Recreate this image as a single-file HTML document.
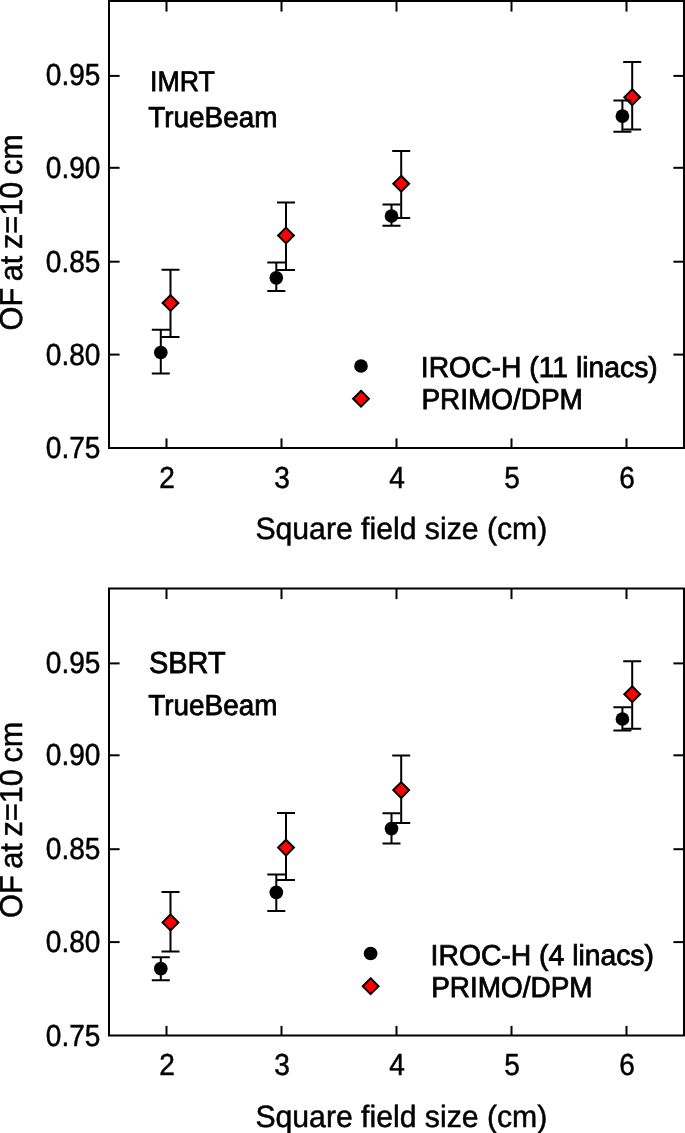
<!DOCTYPE html>
<html><head><meta charset="utf-8"><title>Output factors</title>
<style>html,body{margin:0;padding:0;background:#fff}svg{display:block;will-change:transform}text{fill:#000;text-rendering:geometricPrecision}</style></head>
<body>
<svg width="685" height="1133" viewBox="0 0 685 1133">
<rect width="685" height="1133" fill="#fff"/>
<g transform="translate(0,0)">
<rect x="109" y="1" width="575" height="447" fill="none" stroke="#000" stroke-width="2"/>
<line x1="166.5" y1="1" x2="166.5" y2="11.6" stroke="#000" stroke-width="2"/>
<line x1="166.5" y1="448" x2="166.5" y2="438.4" stroke="#000" stroke-width="2"/>
<line x1="281.5" y1="1" x2="281.5" y2="11.6" stroke="#000" stroke-width="2"/>
<line x1="281.5" y1="448" x2="281.5" y2="438.4" stroke="#000" stroke-width="2"/>
<line x1="396.5" y1="1" x2="396.5" y2="11.6" stroke="#000" stroke-width="2"/>
<line x1="396.5" y1="448" x2="396.5" y2="438.4" stroke="#000" stroke-width="2"/>
<line x1="511.5" y1="1" x2="511.5" y2="11.6" stroke="#000" stroke-width="2"/>
<line x1="511.5" y1="448" x2="511.5" y2="438.4" stroke="#000" stroke-width="2"/>
<line x1="626.5" y1="1" x2="626.5" y2="11.6" stroke="#000" stroke-width="2"/>
<line x1="626.5" y1="448" x2="626.5" y2="438.4" stroke="#000" stroke-width="2"/>
<line x1="109" y1="75.9" x2="119.6" y2="75.9" stroke="#000" stroke-width="2"/>
<line x1="684" y1="75.9" x2="673.4" y2="75.9" stroke="#000" stroke-width="2"/>
<line x1="109" y1="167.8" x2="119.6" y2="167.8" stroke="#000" stroke-width="2"/>
<line x1="684" y1="167.8" x2="673.4" y2="167.8" stroke="#000" stroke-width="2"/>
<line x1="109" y1="261.7" x2="119.6" y2="261.7" stroke="#000" stroke-width="2"/>
<line x1="684" y1="261.7" x2="673.4" y2="261.7" stroke="#000" stroke-width="2"/>
<line x1="109" y1="354.6" x2="119.6" y2="354.6" stroke="#000" stroke-width="2"/>
<line x1="684" y1="354.6" x2="673.4" y2="354.6" stroke="#000" stroke-width="2"/>
<text transform="translate(100.4,85.2) scale(0.92,1)" font-family="Liberation Sans, sans-serif" font-size="30.5" text-anchor="end" stroke="#000" stroke-width="0.5">0.95</text>
<text transform="translate(100.4,177.7) scale(0.92,1)" font-family="Liberation Sans, sans-serif" font-size="30.5" text-anchor="end" stroke="#000" stroke-width="0.5">0.90</text>
<text transform="translate(100.4,271.6) scale(0.92,1)" font-family="Liberation Sans, sans-serif" font-size="30.5" text-anchor="end" stroke="#000" stroke-width="0.5">0.85</text>
<text transform="translate(100.4,364.6) scale(0.92,1)" font-family="Liberation Sans, sans-serif" font-size="30.5" text-anchor="end" stroke="#000" stroke-width="0.5">0.80</text>
<text transform="translate(100.4,458.2) scale(0.92,1)" font-family="Liberation Sans, sans-serif" font-size="30.5" text-anchor="end" stroke="#000" stroke-width="0.5">0.75</text>
<text transform="translate(167.1,487.8) scale(0.92,1)" font-family="Liberation Sans, sans-serif" font-size="30.5" text-anchor="middle" stroke="#000" stroke-width="0.5">2</text>
<text transform="translate(282.1,487.8) scale(0.92,1)" font-family="Liberation Sans, sans-serif" font-size="30.5" text-anchor="middle" stroke="#000" stroke-width="0.5">3</text>
<text transform="translate(397.1,487.8) scale(0.92,1)" font-family="Liberation Sans, sans-serif" font-size="30.5" text-anchor="middle" stroke="#000" stroke-width="0.5">4</text>
<text transform="translate(512.1,487.8) scale(0.92,1)" font-family="Liberation Sans, sans-serif" font-size="30.5" text-anchor="middle" stroke="#000" stroke-width="0.5">5</text>
<text transform="translate(627.1,487.8) scale(0.92,1)" font-family="Liberation Sans, sans-serif" font-size="30.5" text-anchor="middle" stroke="#000" stroke-width="0.5">6</text>
<text transform="translate(255.4,539.3) scale(0.98,1)" font-family="Liberation Sans, sans-serif" font-size="30.8" text-anchor="start" stroke="#000" stroke-width="0.5">Square field size (cm)</text>
<text transform="translate(21.9,330.4) rotate(-90) scale(0.965,1)" font-family="Liberation Sans, sans-serif" font-size="31.8" text-anchor="start" stroke="#000" stroke-width="0.5" word-spacing="-2">OF at z=10 cm</text>
<text transform="translate(150.0,91.4) scale(0.945,1)" font-family="Liberation Sans, sans-serif" font-size="28.3" text-anchor="start" stroke="#000" stroke-width="0.8">IMRT</text>
<text transform="translate(148.3,127.4) scale(0.961,1)" font-family="Liberation Sans, sans-serif" font-size="29" text-anchor="start" stroke="#000" stroke-width="0.8">TrueBeam</text>
<circle cx="361" cy="366" r="6.85" fill="#000"/>
<path d="M361 390.8L368.9 398.7L361 406.59999999999997L353.1 398.7Z" fill="#f00" stroke="#000" stroke-width="2"/>
<text transform="translate(420.8,377.2) scale(0.983,1)" font-family="Liberation Sans, sans-serif" font-size="28.8" text-anchor="start" stroke="#000" stroke-width="0.8">IROC-H (11 linacs)</text>
<text transform="translate(421.40000000000003,409.3) scale(0.97,1)" font-family="Liberation Sans, sans-serif" font-size="28.8" text-anchor="start" stroke="#000" stroke-width="0.8">PRIMO/DPM</text>
<path d="M170.5 269.7V337.1M161.5 269.7H179.5M161.5 337.1H179.5" stroke="#000" stroke-width="2" fill="none"/>
<path d="M286 202.4V269.9M277 202.4H295M277 269.9H295" stroke="#000" stroke-width="2" fill="none"/>
<path d="M401.2 150.9V218.1M392.2 150.9H410.2M392.2 218.1H410.2" stroke="#000" stroke-width="2" fill="none"/>
<path d="M632.2 62.1V129.6M623.2 62.1H641.2M623.2 129.6H641.2" stroke="#000" stroke-width="2" fill="none"/>
<path d="M170.5 295.1L178.4 303L170.5 310.9L162.6 303Z" fill="#f00" stroke="#000" stroke-width="2"/>
<path d="M286 227.6L293.9 235.5L286 243.4L278.1 235.5Z" fill="#f00" stroke="#000" stroke-width="2"/>
<path d="M401.2 175.79999999999998L409.09999999999997 183.7L401.2 191.6L393.3 183.7Z" fill="#f00" stroke="#000" stroke-width="2"/>
<path d="M632.2 89.3L640.1 97.2L632.2 105.10000000000001L624.3000000000001 97.2Z" fill="#f00" stroke="#000" stroke-width="2"/>
<path d="M160.8 329.7V373.5M151.8 329.7H169.8M151.8 373.5H169.8" stroke="#000" stroke-width="2" fill="none"/>
<path d="M276.3 262.4V291.1M267.3 262.4H285.3M267.3 291.1H285.3" stroke="#000" stroke-width="2" fill="none"/>
<path d="M391.5 204.4V225.8M382.5 204.4H400.5M382.5 225.8H400.5" stroke="#000" stroke-width="2" fill="none"/>
<path d="M622.4 100.5V131.7M613.4 100.5H631.4M613.4 131.7H631.4" stroke="#000" stroke-width="2" fill="none"/>
<circle cx="160.8" cy="352.5" r="6.85" fill="#000"/>
<circle cx="276.3" cy="277.8" r="6.85" fill="#000"/>
<circle cx="391.5" cy="216" r="6.85" fill="#000"/>
<circle cx="622.4" cy="116.2" r="6.85" fill="#000"/>
</g>
<g transform="translate(0,587.5)">
<rect x="109" y="1" width="575" height="447" fill="none" stroke="#000" stroke-width="2"/>
<line x1="166.5" y1="1" x2="166.5" y2="11.6" stroke="#000" stroke-width="2"/>
<line x1="166.5" y1="448" x2="166.5" y2="438.4" stroke="#000" stroke-width="2"/>
<line x1="281.5" y1="1" x2="281.5" y2="11.6" stroke="#000" stroke-width="2"/>
<line x1="281.5" y1="448" x2="281.5" y2="438.4" stroke="#000" stroke-width="2"/>
<line x1="396.5" y1="1" x2="396.5" y2="11.6" stroke="#000" stroke-width="2"/>
<line x1="396.5" y1="448" x2="396.5" y2="438.4" stroke="#000" stroke-width="2"/>
<line x1="511.5" y1="1" x2="511.5" y2="11.6" stroke="#000" stroke-width="2"/>
<line x1="511.5" y1="448" x2="511.5" y2="438.4" stroke="#000" stroke-width="2"/>
<line x1="626.5" y1="1" x2="626.5" y2="11.6" stroke="#000" stroke-width="2"/>
<line x1="626.5" y1="448" x2="626.5" y2="438.4" stroke="#000" stroke-width="2"/>
<line x1="109" y1="75.9" x2="119.6" y2="75.9" stroke="#000" stroke-width="2"/>
<line x1="684" y1="75.9" x2="673.4" y2="75.9" stroke="#000" stroke-width="2"/>
<line x1="109" y1="167.8" x2="119.6" y2="167.8" stroke="#000" stroke-width="2"/>
<line x1="684" y1="167.8" x2="673.4" y2="167.8" stroke="#000" stroke-width="2"/>
<line x1="109" y1="261.7" x2="119.6" y2="261.7" stroke="#000" stroke-width="2"/>
<line x1="684" y1="261.7" x2="673.4" y2="261.7" stroke="#000" stroke-width="2"/>
<line x1="109" y1="354.6" x2="119.6" y2="354.6" stroke="#000" stroke-width="2"/>
<line x1="684" y1="354.6" x2="673.4" y2="354.6" stroke="#000" stroke-width="2"/>
<text transform="translate(100.4,85.2) scale(0.92,1)" font-family="Liberation Sans, sans-serif" font-size="30.5" text-anchor="end" stroke="#000" stroke-width="0.5">0.95</text>
<text transform="translate(100.4,177.7) scale(0.92,1)" font-family="Liberation Sans, sans-serif" font-size="30.5" text-anchor="end" stroke="#000" stroke-width="0.5">0.90</text>
<text transform="translate(100.4,271.6) scale(0.92,1)" font-family="Liberation Sans, sans-serif" font-size="30.5" text-anchor="end" stroke="#000" stroke-width="0.5">0.85</text>
<text transform="translate(100.4,364.6) scale(0.92,1)" font-family="Liberation Sans, sans-serif" font-size="30.5" text-anchor="end" stroke="#000" stroke-width="0.5">0.80</text>
<text transform="translate(100.4,458.2) scale(0.92,1)" font-family="Liberation Sans, sans-serif" font-size="30.5" text-anchor="end" stroke="#000" stroke-width="0.5">0.75</text>
<text transform="translate(167.1,487.8) scale(0.92,1)" font-family="Liberation Sans, sans-serif" font-size="30.5" text-anchor="middle" stroke="#000" stroke-width="0.5">2</text>
<text transform="translate(282.1,487.8) scale(0.92,1)" font-family="Liberation Sans, sans-serif" font-size="30.5" text-anchor="middle" stroke="#000" stroke-width="0.5">3</text>
<text transform="translate(397.1,487.8) scale(0.92,1)" font-family="Liberation Sans, sans-serif" font-size="30.5" text-anchor="middle" stroke="#000" stroke-width="0.5">4</text>
<text transform="translate(512.1,487.8) scale(0.92,1)" font-family="Liberation Sans, sans-serif" font-size="30.5" text-anchor="middle" stroke="#000" stroke-width="0.5">5</text>
<text transform="translate(627.1,487.8) scale(0.92,1)" font-family="Liberation Sans, sans-serif" font-size="30.5" text-anchor="middle" stroke="#000" stroke-width="0.5">6</text>
<text transform="translate(255.4,539.3) scale(0.98,1)" font-family="Liberation Sans, sans-serif" font-size="30.8" text-anchor="start" stroke="#000" stroke-width="0.5">Square field size (cm)</text>
<text transform="translate(21.9,330.4) rotate(-90) scale(0.965,1)" font-family="Liberation Sans, sans-serif" font-size="31.8" text-anchor="start" stroke="#000" stroke-width="0.5" word-spacing="-2">OF at z=10 cm</text>
<text transform="translate(149.0,85.60000000000002) scale(0.951,1)" font-family="Liberation Sans, sans-serif" font-size="30.4" text-anchor="start" stroke="#000" stroke-width="0.8">SBRT</text>
<text transform="translate(148.3,127.4) scale(0.961,1)" font-family="Liberation Sans, sans-serif" font-size="29" text-anchor="start" stroke="#000" stroke-width="0.8">TrueBeam</text>
<circle cx="370.6" cy="366" r="6.85" fill="#000"/>
<path d="M370.6 390.8L378.5 398.7L370.6 406.59999999999997L362.70000000000005 398.7Z" fill="#f00" stroke="#000" stroke-width="2"/>
<text transform="translate(430.6,377.2) scale(0.983,1)" font-family="Liberation Sans, sans-serif" font-size="28.8" text-anchor="start" stroke="#000" stroke-width="0.8">IROC-H (4 linacs)</text>
<text transform="translate(431.20000000000005,409.3) scale(0.97,1)" font-family="Liberation Sans, sans-serif" font-size="28.8" text-anchor="start" stroke="#000" stroke-width="0.8">PRIMO/DPM</text>
<path d="M170.5 304.6V364.1M161.5 304.6H179.5M161.5 364.1H179.5" stroke="#000" stroke-width="2" fill="none"/>
<path d="M286 225.39999999999998V292.5M277 225.39999999999998H295M277 292.5H295" stroke="#000" stroke-width="2" fill="none"/>
<path d="M401.2 168.10000000000002V235.39999999999998M392.2 168.10000000000002H410.2M392.2 235.39999999999998H410.2" stroke="#000" stroke-width="2" fill="none"/>
<path d="M632.2 73.70000000000005V141.20000000000005M623.2 73.70000000000005H641.2M623.2 141.20000000000005H641.2" stroke="#000" stroke-width="2" fill="none"/>
<path d="M170.5 327.0L178.4 334.9L170.5 342.79999999999995L162.6 334.9Z" fill="#f00" stroke="#000" stroke-width="2"/>
<path d="M286 252.20000000000002L293.9 260.1L286 268.0L278.1 260.1Z" fill="#f00" stroke="#000" stroke-width="2"/>
<path d="M401.2 194.70000000000002L409.09999999999997 202.60000000000002L401.2 210.50000000000003L393.3 202.60000000000002Z" fill="#f00" stroke="#000" stroke-width="2"/>
<path d="M632.2 98.80000000000004L640.1 106.70000000000005L632.2 114.60000000000005L624.3000000000001 106.70000000000005Z" fill="#f00" stroke="#000" stroke-width="2"/>
<path d="M160.8 369.70000000000005V392.70000000000005M151.8 369.70000000000005H169.8M151.8 392.70000000000005H169.8" stroke="#000" stroke-width="2" fill="none"/>
<path d="M276.3 287.1V323.6M267.3 287.1H285.3M267.3 323.6H285.3" stroke="#000" stroke-width="2" fill="none"/>
<path d="M391.5 225.70000000000005V256.0M382.5 225.70000000000005H400.5M382.5 256.0H400.5" stroke="#000" stroke-width="2" fill="none"/>
<path d="M622.4 119.70000000000005V143.0M613.4 119.70000000000005H631.4M613.4 143.0H631.4" stroke="#000" stroke-width="2" fill="none"/>
<circle cx="160.8" cy="381.20000000000005" r="6.85" fill="#000"/>
<circle cx="276.3" cy="304.79999999999995" r="6.85" fill="#000"/>
<circle cx="391.5" cy="241.10000000000002" r="6.85" fill="#000"/>
<circle cx="622.4" cy="131.5" r="6.85" fill="#000"/>
</g>
</svg>
</body></html>
